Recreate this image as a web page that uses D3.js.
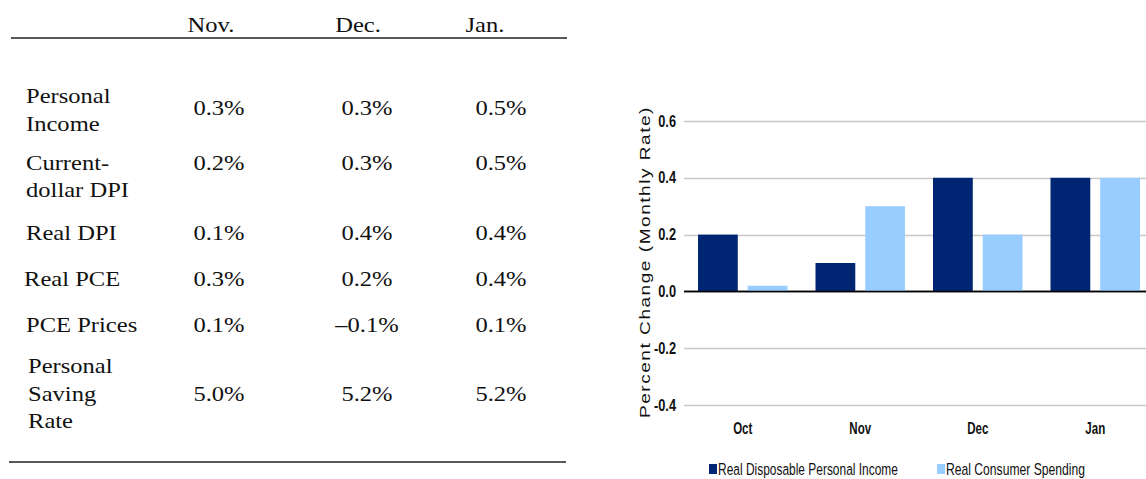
<!DOCTYPE html>
<html>
<head>
<meta charset="utf-8">
<script src="https://cdn.jsdelivr.net/npm/d3@7"></script>
<style>
  body { margin: 0; background: #fff; }
  svg { display: block; }
</style>
</head>
<body>
<svg width="1146" height="479"></svg>
<script>
// table data
var tableCols = ["Nov.", "Dec.", "Jan."];
var tableRows = [["Personal", "Income"], ["Current-", "dollar DPI"], ["Real DPI"], ["Real PCE"], ["PCE Prices"], ["Personal", "Saving", "Rate"]];
var tableVals = [
  ["0.3%", "0.3%", "0.5%"],
  ["0.2%", "0.3%", "0.5%"],
  ["0.1%", "0.4%", "0.4%"],
  ["0.3%", "0.2%", "0.4%"],
  ["0.1%", "\u20130.1%", "0.1%"],
  ["5.0%", "5.2%", "5.2%"]
];

// chart data
var months = ["Oct", "Nov", "Dec", "Jan"];
var income = [0.2, 0.1, 0.4, 0.4];
var spending = [0.02, 0.3, 0.2, 0.4];
var yTicks = [-0.4, -0.2, 0.0, 0.2, 0.4, 0.6];
var seriesNames = ["Real Disposable Personal Income", "Real Consumer Spending"];
var colors = ["#002673", "#99ccff"];

var svg = d3.select("svg");

// text squeezed/stretched horizontally (the source image is not at 1:1)
function placeText(g, x, yy, sx, str, anchor) {
  return g.append("text")
    .attr("transform", "translate(" + x + "," + yy + ") scale(" + sx + ",1)")
    .attr("text-anchor", anchor || "start")
    .attr("dominant-baseline", "central")
    .text(str);
}

// ---- table ----
var tbl = svg.append("g").attr("font-family", "'Liberation Serif', 'Times New Roman', serif")
  .attr("font-size", 21).attr("fill", "#111");

var sx = 1.17;
var colXs = [211, 358, 485];   // header centres
var valXs = [219, 367, 501];   // value centres
var rowY = [108, 163, 233, 279, 325, 394];
var rowLabelY = [[96, 124], [163, 190], [233], [279], [325], [366, 394, 421]];
var labelX = [26, 26, 26, 24, 26, 28];

tableCols.forEach(function (d, i) { placeText(tbl, colXs[i], 25, sx, d, "middle"); });

tbl.append("line").attr("x1", 11).attr("x2", 567).attr("y1", 38).attr("y2", 38)
  .attr("stroke", "#222").attr("stroke-width", 1.5);
tbl.append("line").attr("x1", 9).attr("x2", 566).attr("y1", 462).attr("y2", 462)
  .attr("stroke", "#222").attr("stroke-width", 1.5);

tableRows.forEach(function (lines, r) {
  lines.forEach(function (t, k) { placeText(tbl, labelX[r], rowLabelY[r][k], sx, t); });
  tableVals[r].forEach(function (v, c) { placeText(tbl, valXs[c], rowY[r], sx, v, "middle"); });
});

// ---- bar chart ----
var left = 684, right = 1154;
var x0 = d3.scaleBand().domain(months).range([left, right]).paddingInner(0).paddingOuter(0);
var x1 = d3.scaleBand().domain([0, 1]).range([14, x0.bandwidth() - 14]).paddingInner(0.2);
var y = d3.scaleLinear().domain([-0.4, 0.6]).range([405, 121]);

var sans = "'Liberation Sans', Arial, sans-serif";
var fmt = function (d) { return d3.format(".1f")(d).replace("\u2212", "-"); };

// grid
svg.append("g").selectAll("line").data(yTicks).enter().append("line")
  .attr("x1", left).attr("x2", 1146)
  .attr("y1", function (d) { return Math.round(y(d)) + 0.5; })
  .attr("y2", function (d) { return Math.round(y(d)) + 0.5; })
  .attr("stroke", function (d) { return d === 0 ? "#000" : "#c8c8c8"; })
  .attr("stroke-width", 1.5);

// y tick labels
var yl = svg.append("g").attr("font-family", sans).attr("font-weight", "bold")
  .attr("font-size", 16).attr("fill", "#111");
yTicks.forEach(function (d) { placeText(yl, 676, y(d), 0.8, fmt(d), "end"); });

var data = months.map(function (m, i) { return { m: m, v: [income[i], spending[i]] }; });
var grp = svg.append("g").selectAll("g").data(data).enter().append("g")
  .attr("transform", function (d) { return "translate(" + x0(d.m) + ",0)"; });
grp.selectAll("rect").data(function (d) { return d.v; }).enter().append("rect")
  .attr("x", function (d, i) { return x1(i); })
  .attr("width", x1.bandwidth())
  .attr("y", function (d) { return y(Math.max(0, d)); })
  .attr("height", function (d) { return Math.abs(y(d) - y(0)); })
  .attr("fill", function (d, i) { return colors[i]; });

// zero line on top
svg.append("line").attr("x1", left).attr("x2", 1146)
  .attr("y1", Math.round(y(0)) + 0.5).attr("y2", Math.round(y(0)) + 0.5)
  .attr("stroke", "#000").attr("stroke-width", 1.5);

// category labels
var xl = svg.append("g").attr("font-family", sans).attr("font-weight", "bold")
  .attr("font-size", 17).attr("fill", "#111");
months.forEach(function (d) { placeText(xl, x0(d) + x0.bandwidth() / 2, 428, 0.68, d, "middle"); });

// y axis title
svg.append("text")
  .attr("transform", "translate(644,262) rotate(-90)")
  .attr("text-anchor", "middle").attr("dominant-baseline", "central")
  .attr("font-family", sans).attr("font-size", 15)
  .attr("letter-spacing", 1.2)
  .attr("textLength", 312).attr("lengthAdjust", "spacingAndGlyphs")
  .attr("fill", "#111")
  .text("Percent Change (Monthly Rate)");

// legend
var legX = [709, 937];
var legW = [180, 139];
var lg = svg.append("g").attr("font-family", sans).attr("font-size", 17).attr("fill", "#111");
seriesNames.forEach(function (name, i) {
  lg.append("rect").attr("x", legX[i]).attr("y", 464).attr("width", 8).attr("height", 10)
    .attr("fill", colors[i]);
  var t = placeText(lg, legX[i] + 9, 469, 1, name);
  var w = t.node().getComputedTextLength();
  t.attr("transform", "translate(" + (legX[i] + 9) + ",469) scale(" + (legW[i] / w) + ",1)");
});
</script>
</body>
</html>
